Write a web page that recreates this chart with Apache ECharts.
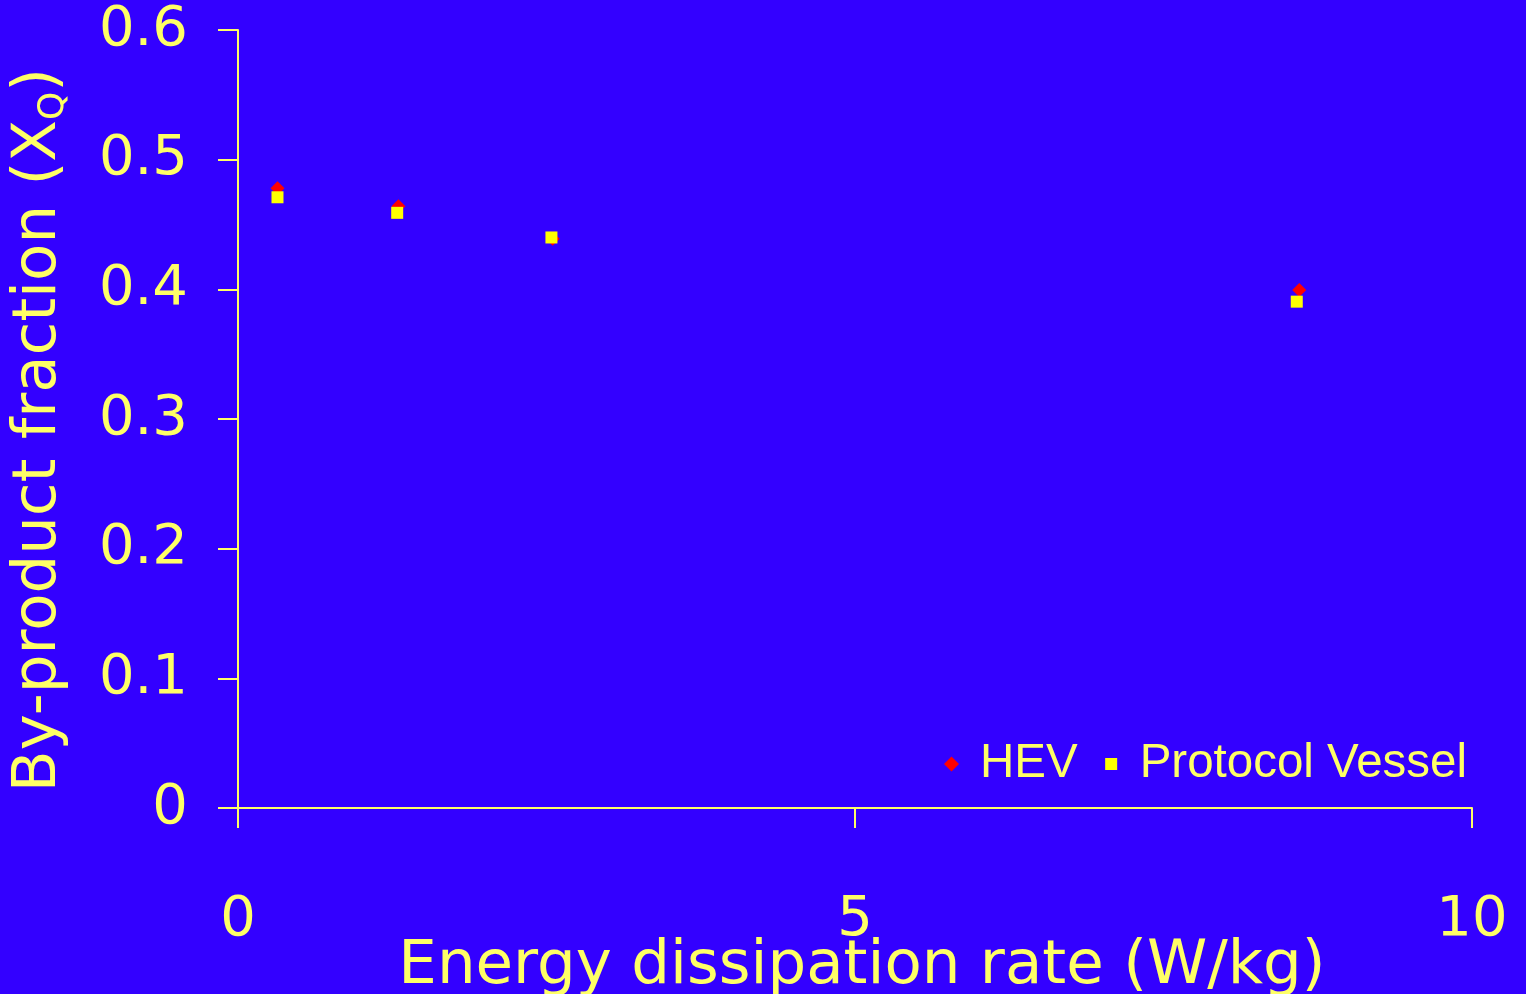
<!DOCTYPE html>
<html>
<head>
<meta charset="utf-8">
<script src="https://cdn.jsdelivr.net/npm/echarts@6/dist/echarts.min.js"></script>
<style>
  html, body { margin: 0; padding: 0; background: #3300ff; overflow: hidden; }
  #chart { width: 1526px; height: 994px; }
</style>
</head>
<body>
<div id="chart"></div>
<script>
// Energy dissipation rate (W/kg) and by-product fraction for each vessel
const hevX = [0.32, 1.30, 2.55, 8.60];
const hevY = [0.478, 0.464, 0.439, 0.3995];
const pvX = [0.32, 1.29, 2.54, 8.58];
const pvY = [0.471, 0.459, 0.440, 0.3905];
const seriesNames = ['HEV', 'Protocol Vessel'];

const yellowText = '#ffff66';
const titleFont = 'DejaVu Sans';

const toPairs = (xs, ys) => xs.map((x, i) => [x, ys[i]]);

// legend square kept a little smaller than the diamond inside the same icon box
const legendSquare = 'path://M0,0h0.01M1.5,1.5h12v12h-12zM15,15h-0.01';

const chart = echarts.init(document.getElementById('chart'));
chart.setOption({
  backgroundColor: '#3300ff',
  animation: false,
  grid: { left: 238, right: 54, top: 30, bottom: 186, containLabel: false, outerBoundsMode: 'none' },
  xAxis: {
    type: 'value',
    min: 0, max: 10, interval: 5,
    axisLine: { show: true, lineStyle: { color: yellowText, width: 2 } },
    axisTick: { show: true, inside: false, length: 20, lineStyle: { color: yellowText, width: 2 } },
    splitLine: { show: false },
    axisLabel: { color: yellowText, fontFamily: titleFont, fontSize: 56, margin: 84 },
    name: 'Energy dissipation rate (W/kg)',
    nameLocation: 'middle',
    nameGap: 129,
    nameMoveOverlap: false,
    nameTextStyle: { color: yellowText, fontFamily: titleFont, fontSize: 61, padding: [0, 0, 0, 14] }
  },
  yAxis: {
    type: 'value',
    min: 0, max: 0.6, interval: 0.1,
    axisLine: { show: true, lineStyle: { color: yellowText, width: 2 } },
    axisTick: { show: true, inside: false, length: 20, lineStyle: { color: yellowText, width: 2 } },
    splitLine: { show: false },
    axisLabel: {
      color: yellowText, fontFamily: titleFont, fontSize: 56, margin: 50,
      formatter: v => (v === 0 ? '0' : v.toFixed(1))
    },
    name: '{main|By-product fraction (X}{sub|Q}{main|)}',
    nameLocation: 'middle',
    nameGap: 166,
    nameTextStyle: {
      color: yellowText, fontFamily: titleFont, padding: [0, 22, 0, 0],
      rich: {
        main: { fontSize: 61, color: yellowText, fontFamily: titleFont, lineHeight: 66 },
        sub: { fontSize: 36, color: yellowText, fontFamily: titleFont, lineHeight: 66, verticalAlign: 'bottom', padding: [20, 0, 0, 0] }
      }
    }
  },
  legend: {
    show: true,
    left: 939,
    top: 735,
    orient: 'horizontal',
    itemWidth: 15,
    itemHeight: 15,
    itemGap: 26,
    data: [
      { name: seriesNames[0], icon: 'diamond' },
      { name: seriesNames[1], icon: legendSquare }
    ],
    textStyle: { color: yellowText, fontFamily: 'Liberation Sans', fontSize: 47.5, padding: [0, 0, 0, 16] }
  },
  series: [
    {
      name: seriesNames[0],
      type: 'scatter',
      symbol: 'diamond',
      symbolSize: 14,
      itemStyle: { color: '#ff0000', opacity: 1 },
      data: toPairs(hevX, hevY),
      z: 2
    },
    {
      name: seriesNames[1],
      type: 'scatter',
      symbol: 'rect',
      symbolSize: 12,
      itemStyle: { color: '#ffff00', opacity: 1 },
      data: toPairs(pvX, pvY),
      z: 3
    }
  ]
});
</script>
</body>
</html>
